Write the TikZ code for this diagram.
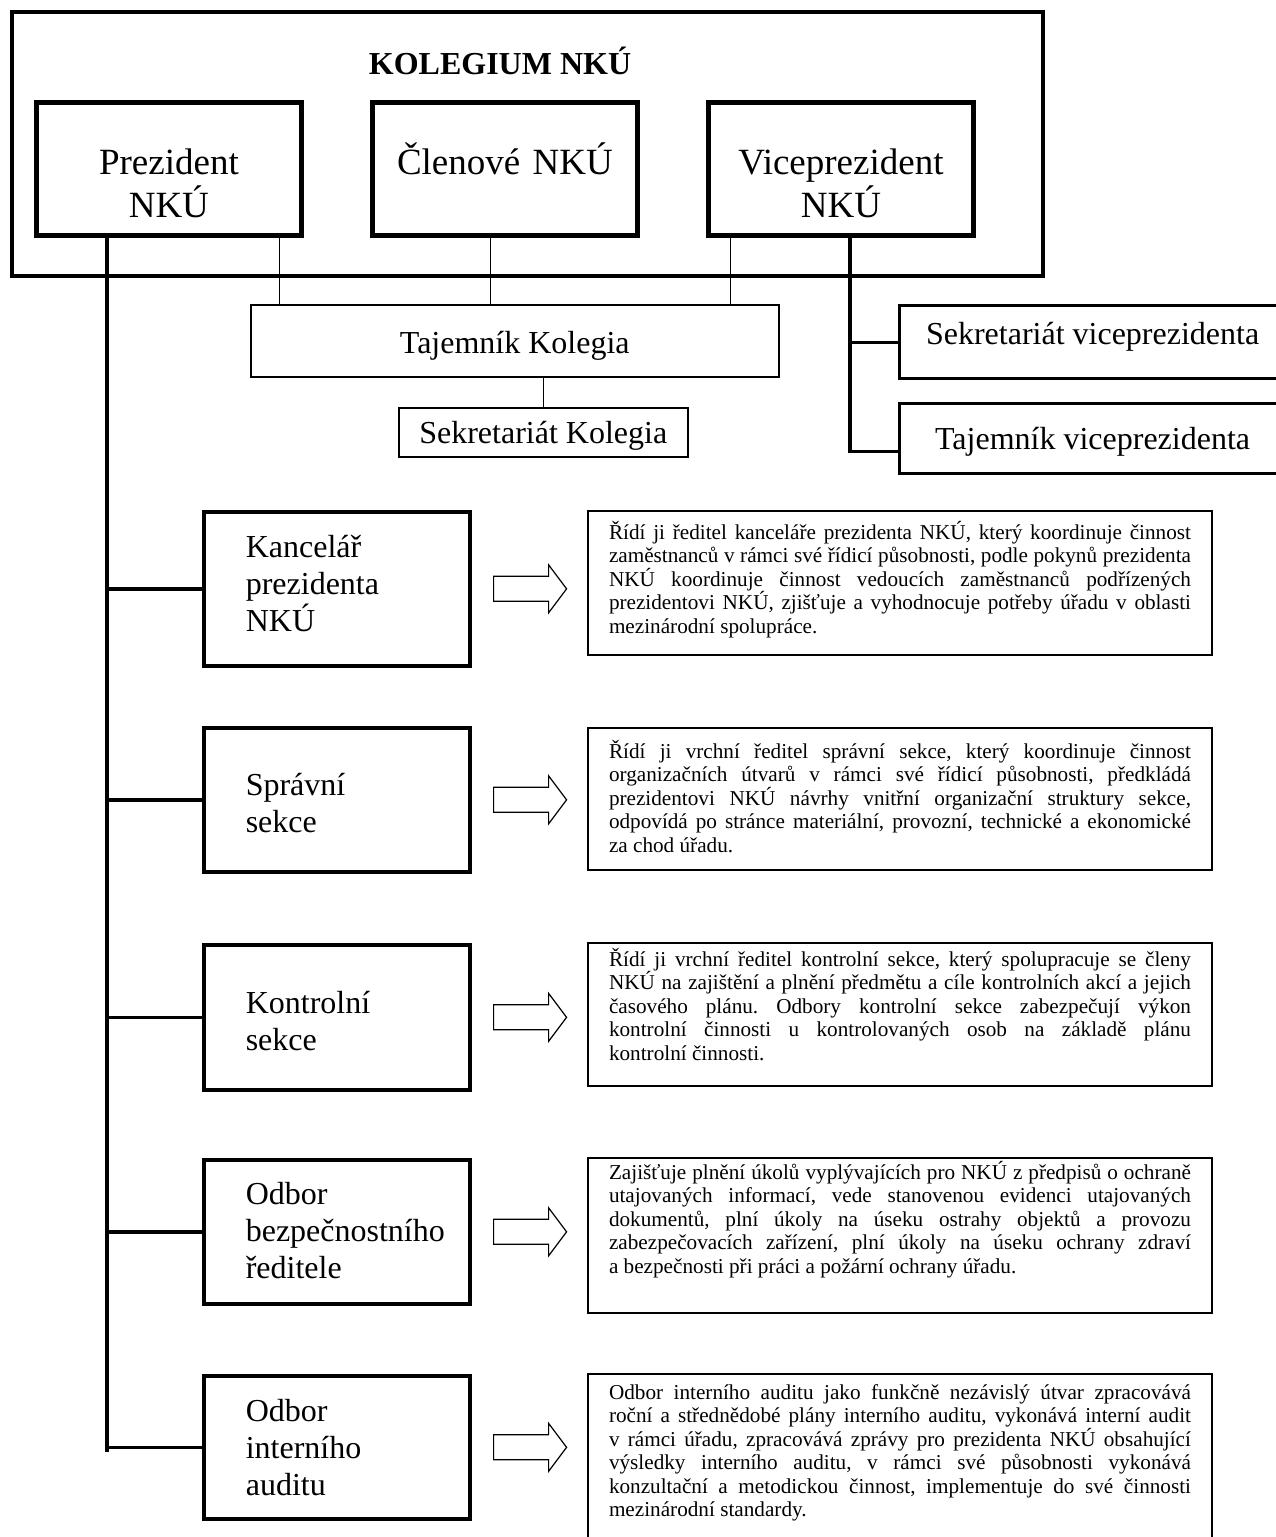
\documentclass[tikz,border=0pt]{standalone}
\usepackage{fontspec}
\setmainfont{Liberation Serif}
\tolerance=10000
\hbadness=10000
\hfuzz=30pt
\hyphenpenalty=10000
\frenchspacing

\begin{document}
\begin{tikzpicture}[x=0.5pt, y=-0.5pt,
    frame/.style={line width=1.6pt},
    head/.style={draw, line width=2.4pt, anchor=north west, inner xsep=10pt, inner ysep=0pt,
        text width=112.5pt, align=center, font=\fontsize{18.5}{21.5}\selectfont,
        text height=36pt, text depth=30.5pt},
    unit/.style 2 args={draw, line width=1.8pt, anchor=north west, inner xsep=21pt, inner ysep=0pt,
        text width=91pt, align=left, font=\fontsize{16}{18.5}\selectfont,
        text height=#1, text depth=#2},
    desc/.style 2 args={draw, line width=1pt, anchor=north west, inner xsep=10.5pt, inner ysep=0pt,
        text width=291pt, align=justify, font=\fontsize{10.6}{11.75}\selectfont,
        text height=#1, text depth=#2},
    office/.style={draw, anchor=north west, inner sep=0pt, font=\fontsize{16}{18.5}\selectfont},
    trunk/.style={line width=2pt},
    branch/.style={line width=1.8pt},
    link/.style={line width=0.5pt},
    vline/.style={line width=1.6pt},
    hollow/.style={line width=0.6pt}]

    \useasboundingbox (0,0) rectangle (1275,1537);

    % Kolegium
    \draw[frame] (12,12) rectangle (1043,276);
    \node[font=\fontsize{16}{19}\selectfont\bfseries, anchor=base] (title) at (500,74) {KOLEGIUM NKÚ};
    \node[head] (prez) at (34,100) {Prezident\\NKÚ};
    \node[head] (clen) at (370,100) {Členové NKÚ};
    \node[head] (vice) at (706,100) {Viceprezident\\NKÚ};

    % Secretariats
    \node[office, line width=0.75pt, minimum width=264pt, text height=24.5pt, text depth=11.5pt] (tajkol) at (250,304) {Tajemník Kolegia};
    \node[office, line width=0.75pt, minimum width=144.5pt, text height=18pt, text depth=6.5pt] (sekkol) at (398,407) {Sekretariát Kolegia};
    \node[office, line width=1.6pt, minimum width=193pt, text height=19.5pt, text depth=17pt] (sekv) at (898,304) {Sekretariát viceprezidenta};
    \node[office, line width=1.6pt, minimum width=193pt, text height=23pt, text depth=12pt] (tajv) at (898,402) {Tajemník viceprezidenta};

    % Units
    \node[unit={23pt}{54pt}] (kanc) at (202,510) {Kancelář\\prezidenta\\NKÚ};
    \node[unit={34pt}{38pt}] (sprav) at (202,726) {Správní\\sekce};
    \node[unit={34.5pt}{38pt}] (kontr) at (202,943) {Kontrolní\\sekce};
    \node[unit={22.5pt}{49.5pt}] (bezp) at (202,1158) {Odbor\\bezpečnostního\\ředitele};
    \node[unit={23pt}{48.5pt}] (audit) at (202,1374) {Odbor\\interního\\auditu};

    % Descriptions
    \node[desc={14pt}{58pt}] (kancd) at (587,510) {Řídí ji ředitel kanceláře prezidenta NKÚ, který koordinuje činnost\linebreak
        zaměstnanců v~rámci své řídicí působnosti, podle pokynů prezidenta\linebreak
        NKÚ koordinuje činnost vedoucích zaměstnanců podřízených\linebreak
        prezidentovi NKÚ, zjišťuje a vyhodnocuje potřeby úřadu v~oblasti\linebreak
        mezinárodní spolupráce.};
    \node[desc={15pt}{56pt}] (spravd) at (587,727) {Řídí ji vrchní ředitel správní sekce, který koordinuje činnost\linebreak
        organizačních útvarů v~rámci své řídicí působnosti, předkládá\linebreak
        prezidentovi NKÚ návrhy vnitřní organizační struktury sekce,\linebreak
        odpovídá po stránce materiální, provozní, technické a ekonomické\linebreak
        za chod úřadu.};
    \node[desc={11.5pt}{60pt}] (kontrd) at (587,942) {Řídí ji vrchní ředitel kontrolní sekce, který spolupracuje se členy\linebreak
        NKÚ na zajištění a plnění předmětu a cíle kontrolních akcí a jejich\linebreak
        časového plánu. Odbory kontrolní sekce zabezpečují výkon\linebreak
        kontrolní činnosti u kontrolovaných osob na základě plánu\linebreak
        kontrolní činnosti.};
    \node[desc={10.5pt}{67pt}] (bezpd) at (587,1157) {Zajišťuje plnění úkolů vyplývajících pro NKÚ z předpisů o ochraně\linebreak
        utajovaných informací, vede stanovenou evidenci utajovaných\linebreak
        dokumentů, plní úkoly na úseku ostrahy objektů a provozu\linebreak
        zabezpečovacích zařízení, plní úkoly na úseku ochrany zdraví\linebreak
        a bezpečnosti při práci a požární ochrany úřadu.};
    \node[desc={12.5pt}{73.5pt}] (auditd) at (587,1373) {Odbor interního auditu jako funkčně nezávislý útvar zpracovává\linebreak
        roční a střednědobé plány interního auditu, vykonává interní audit\linebreak
        v~rámci úřadu, zpracovává zprávy pro prezidenta NKÚ obsahující\linebreak
        výsledky interního auditu, v~rámci své působnosti vykonává\linebreak
        konzultační a metodickou činnost, implementuje do své činnosti\linebreak
        mezinárodní standardy.};

    % Draw edges
    \coordinate (lp) at ([xshift=-12pt]prez.south east);
    \coordinate (lc) at ([xshift=60pt]clen.south west);
    \coordinate (lv) at ([xshift=12pt]vice.south west);
    \coordinate (vcol) at ([xshift=72pt]vice.south west);
    \coordinate (tv) at ([yshift=12pt]tajv.south west);
    \coordinate (trunkend) at (107,1452);

    \draw[link] (lp) -- (lp |- tajkol.north);
    \draw[link] (lc) -- (lc |- tajkol.north);
    \draw[link] (lv) -- (lv |- tajkol.north);
    \draw[link] (sekkol.north) -- (sekkol.north |- tajkol.south);

    \draw[vline] (vcol) |- (tv);
    \draw[vline] (sekv.west -| vcol) -- (sekv.west);

    \draw[trunk] (prez.south -| trunkend) -- (trunkend);
    \draw[branch] (kanc.west -| trunkend) -- (kanc.west);
    \draw[branch] (sprav.west -| trunkend) -- (sprav.west);
    \draw[branch] (kontr.west -| trunkend) -- (kontr.west);
    \draw[branch] (bezp.west -| trunkend) -- (bezp.west);
    \draw[branch] (audit.west -| trunkend) -- (audit.west);

    % Hollow arrows
    \draw[hollow] ([xshift=11pt,yshift=6.25pt]kanc.east) -- ++(55,0) -- ++(0,-11.5) -- ++(18,24) -- ++(-18,24) -- ++(0,-11.5) -- ++(-55,0) -- cycle;
    \draw[hollow] ([xshift=11pt,yshift=6.25pt]sprav.east) -- ++(55,0) -- ++(0,-11.5) -- ++(18,24) -- ++(-18,24) -- ++(0,-11.5) -- ++(-55,0) -- cycle;
    \draw[hollow] ([xshift=11pt,yshift=6.25pt]kontr.east) -- ++(55,0) -- ++(0,-11.5) -- ++(18,24) -- ++(-18,24) -- ++(0,-11.5) -- ++(-55,0) -- cycle;
    \draw[hollow] ([xshift=11pt,yshift=6.25pt]bezp.east) -- ++(55,0) -- ++(0,-11.5) -- ++(18,24) -- ++(-18,24) -- ++(0,-11.5) -- ++(-55,0) -- cycle;
    \draw[hollow] ([xshift=11pt,yshift=6.25pt]audit.east) -- ++(55,0) -- ++(0,-11.5) -- ++(18,24) -- ++(-18,24) -- ++(0,-11.5) -- ++(-55,0) -- cycle;

\end{tikzpicture}
\end{document}
